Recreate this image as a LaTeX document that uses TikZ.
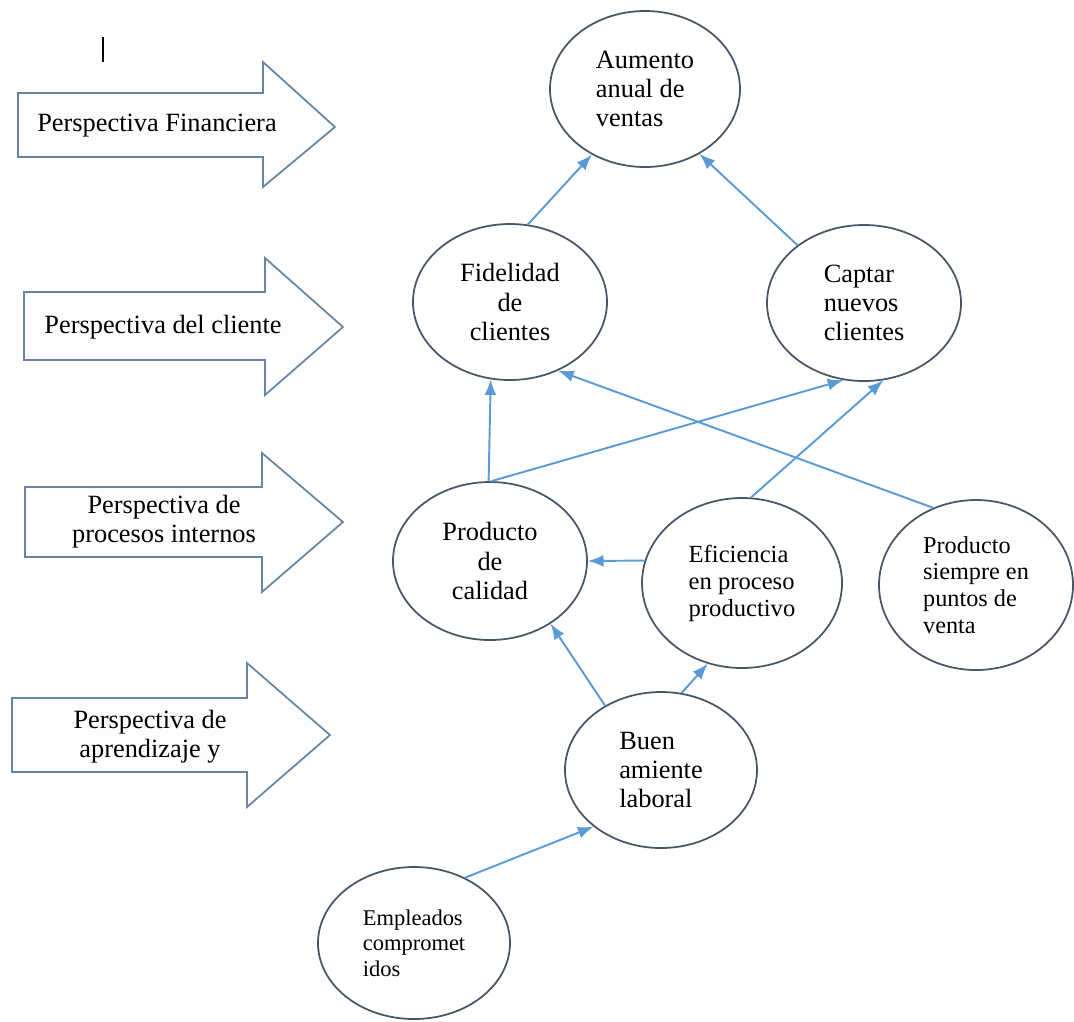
\documentclass[tikz,border=0pt]{standalone}
\usepackage{fontspec}
\setmainfont{Liberation Serif}
\usepackage{tikz}
\usetikzlibrary{arrows,shapes.geometric}
\definecolor{azul}{RGB}{91,155,213}
\definecolor{contorno}{RGB}{72,86,106}
\definecolor{borde}{RGB}{104,134,164}
\definecolor{relleno}{RGB}{251,253,255}

\begin{document}
\begin{tikzpicture}[scale=1,transform shape,
        objetivo/.style={ellipse,draw=contorno,line width=0.5pt,inner sep=0pt,
            minimum width=1.94cm,minimum height=1.56cm,font=\fontsize{7.5}{8.3}\selectfont},
        flecha/.style={draw=borde,fill=relleno,line width=0.5pt},
        rotulo/.style={align=center,font=\fontsize{7.5}{8.3}\selectfont},
        enlace/.style={draw=azul,line width=0.55pt,-latex}]
        \useasboundingbox (0,0) rectangle (10.74,-10.21);

        \draw[flecha] (0.18,-0.93) -- (2.63,-0.93) -- (2.63,-0.62) -- (3.35,-1.27)
            -- (2.63,-1.87) -- (2.63,-1.57) -- (0.18,-1.57) -- cycle;
        \draw[flecha] (0.24,-2.92) -- (2.65,-2.92) -- (2.65,-2.58) -- (3.43,-3.27)
            -- (2.65,-3.95) -- (2.65,-3.60) -- (0.24,-3.60) -- cycle;
        \draw[flecha] (0.25,-4.87) -- (2.62,-4.87) -- (2.62,-4.53) -- (3.43,-5.22)
            -- (2.62,-5.92) -- (2.62,-5.57) -- (0.25,-5.57) -- cycle;
        \draw[flecha] (0.12,-6.98) -- (2.47,-6.98) -- (2.47,-6.63) -- (3.30,-7.35)
            -- (2.47,-8.07) -- (2.47,-7.72) -- (0.12,-7.72) -- cycle;
        \draw[line width=0.5pt] (1.03,-0.37) -- (1.03,-0.62);

        \node[rotulo] (p_fin) at (1.57,-1.26) {Perspectiva Financiera};
        \node[rotulo] (p_cli) at (1.63,-3.27) {Perspectiva del cliente};
        \node[rotulo] (p_int) at (1.64,-5.22) {Perspectiva de\\procesos internos};
        \node[rotulo] (p_apr) at (1.50,-7.37) {Perspectiva de\\aprendizaje y};

        \node[objetivo,minimum width=1.90cm,align=left] (aumento) at (6.45,-0.89) {Aumento\\anual de\\ventas};
        \node[objetivo,align=center] (fidelidad) at (5.10,-3.02) {Fidelidad\\de\\clientes};
        \node[objetivo,align=left] (captar) at (8.64,-3.03) {Captar\\nuevos\\clientes};
        \node[objetivo,minimum height=1.58cm,align=center] (calidad) at (4.90,-5.61) {Producto\\de\\calidad};
        \node[objetivo,minimum width=2.00cm,minimum height=1.70cm,align=left,
            font=\fontsize{7}{7.7}\selectfont] (eficiencia) at (7.42,-5.83) {Eficiencia\\en proceso\\productivo};
        \node[objetivo,minimum height=1.70cm,align=left,
            font=\fontsize{6.9}{7.6}\selectfont] (siempre) at (9.76,-5.85) {Producto\\siempre en\\puntos de\\venta};
        \node[objetivo,minimum width=1.92cm,align=left] (buen) at (6.61,-7.70) {Buen\\amiente\\laboral};
        \node[objetivo,minimum width=1.92cm,minimum height=1.52cm,align=left,
            font=\fontsize{6.4}{7.3}\selectfont] (empleados) at (4.14,-9.43) {Empleados\\compromet\\idos};

        \draw[enlace] (fidelidad.77) -- (aumento.231);
        \draw[enlace] (captar.139) -- (aumento.310);
        \draw[enlace] (calidad.91) -- (fidelidad.256);
        \draw[enlace] (calidad.89) -- (captar.255);
        \draw[enlace] (eficiencia.84) -- (captar.284);
        \draw[enlace] (siempre.119) -- (fidelidad.305);
        \draw[enlace] (eficiencia.167) -- (calidad.0);
        \draw[enlace] (buen.131) -- (calidad.314);
        \draw[enlace] (buen.75) -- (eficiencia.247);
        \draw[enlace] (empleados.52) -- (buen.220);
    \end{tikzpicture}
\end{document}
